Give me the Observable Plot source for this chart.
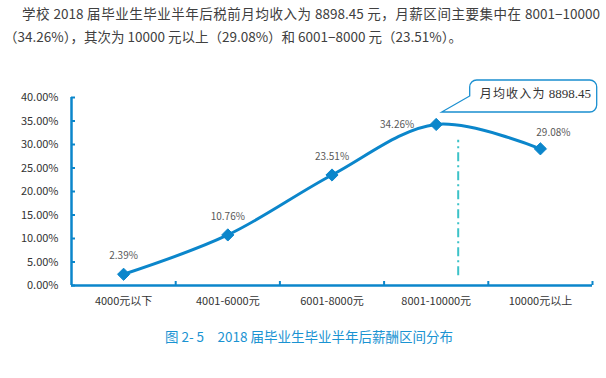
<!DOCTYPE html>
<html>
<head>
<meta charset="utf-8">
<script src="https://cdn.jsdelivr.net/npm/d3@7"></script>
<script src="https://cdn.jsdelivr.net/npm/@observablehq/plot@0.6"></script>
<style>
  html, body { margin: 0; padding: 0; background: #fff; }
  body { width: 606px; height: 378px; overflow: hidden; font-family: "Noto Sans CJK SC", "Noto Sans", sans-serif; }
  #intro { height: 55px; margin: 0; padding: 2px 6px 0 4px; box-sizing: border-box; font-size: 13.5px; line-height: 23px; color: #404040; text-align: justify; text-indent: 18px; }
  #chart svg { display: block; }
  #caption { text-align: center; font-size: 13.5px; color: #1a93d2; margin-top: 6px; padding-left: 12px; }
</style>
</head>
<body>
<p id="intro">学校 2018 届毕业生毕业半年后税前月均收入为 8898.45 元，月薪区间主要集中在 8001−10000（34.26%），其次为 10000 元以上（29.08%）和 6001−8000 元（23.51%）。</p>
<div id="chart"></div>
<div id="caption">图 2- 5　2018 届毕业生毕业半年后薪酬区间分布</div>
<script>
const categories = ["4000元以下", "4001-6000元", "6001-8000元", "8001-10000元", "10000元以上"];
const shares = [2.39, 10.76, 23.51, 34.26, 29.08];
const yTicks = [0, 5, 10, 15, 20, 25, 30, 35, 40];
const avgLabel = "月均收入为";
const avgValue = "8898.45";
const avgCategory = "8001-10000元";
const avgLineRange = [2.1, 30.9];

const data = categories.map((c, i) => ({cat: c, pos: i + 0.5, v: shares[i]}));
const avgPos = categories.indexOf(avgCategory) + 0.5;
const blue = "#0b86cb";

const callout = (index, scales) => {
  const px = scales.x(avgPos) + 6, py = scales.y(shares[categories.indexOf(avgCategory)]) - 12;
  const l = px + 28, t = py - 32, r = px + 155, b = py, rad = 7;
  const g = d3.create("svg:g");
  g.append("path")
    .attr("d", `M${l + rad},${t} H${r - rad} A${rad},${rad} 0 0 1 ${r},${t + rad} V${b - rad} A${rad},${rad} 0 0 1 ${r - rad},${b} H${l + 7} L${px},${py} L${l},${b - 16} V${t + rad} A${rad},${rad} 0 0 1 ${l + rad},${t} Z`)
    .attr("fill", "#fff").attr("stroke", "#1a8fd0").attr("stroke-width", 1.3);
  const tx = g.append("text").attr("x", l + 10).attr("y", (t + b) / 2 + 2.5)
    .attr("text-anchor", "start").attr("fill", "#333").attr("font-size", 12);
  tx.append("tspan").attr("font-family", "Noto Sans CJK SC").attr("letter-spacing", 1.2).text(avgLabel);
  tx.append("tspan").attr("dx", 3).attr("font-size", 13).attr("font-family", "Liberation Serif").text(avgValue);
  return g.node();
};

const chart = Plot.plot({
  width: 606,
  height: 265,
  marginLeft: 71,
  marginRight: 14,
  marginTop: 42,
  marginBottom: 35,
  style: {fontFamily: "Noto Sans CJK SC, sans-serif", fontSize: "11px", color: "#333", background: "#fff"},
  x: {domain: [0, categories.length], label: null},
  y: {domain: [0, 40], label: null},
  marks: [
    Plot.axisY({ticks: yTicks, tickFormat: d => d.toFixed(2) + "%", tickSize: -4, tickPadding: 17, stroke: blue, strokeWidth: 2, fill: "#333", fontSize: 11, label: null}),
    Plot.axisX({ticks: categories.map((c, i) => i + 1), tickSize: -4, tickFormat: () => "", stroke: blue, strokeWidth: 2, label: null}),
    Plot.axisX({ticks: data.map(d => d.pos), tickSize: 0, tickPadding: 12, tickFormat: (d, i) => categories[i], fill: "#333", fontSize: 11, label: null}),
    Plot.ruleX([0], {y1: 0, y2: 40, stroke: blue, strokeWidth: 2.5}),
    Plot.ruleY([0], {x1: 0, x2: categories.length, stroke: blue, strokeWidth: 2.5}),
    Plot.ruleX([avgPos], {y1: avgLineRange[0], y2: avgLineRange[1], dx: 22, stroke: "#3cc2c8", strokeWidth: 2, strokeDasharray: "9,4,2,4"}),
    Plot.line(data, {x: "pos", y: "v", curve: "catmull-rom", stroke: blue, strokeWidth: 3}),
    Plot.dot(data, {x: "pos", y: "v", symbol: "diamond2", r: 5.5, fill: blue, stroke: blue, strokeWidth: 1}),
    Plot.text(data.filter(d => d.cat !== avgCategory && d.cat !== categories[4]), {x: "pos", y: "v", text: d => d.v.toFixed(2) + "%", dy: -18, fill: "#595959", fontSize: 10}),
    Plot.text(data.filter(d => d.cat === categories[4]), {x: "pos", y: "v", text: d => d.v.toFixed(2) + "%", dy: -16, dx: 13, fill: "#595959", fontSize: 10}),
    Plot.text(data.filter(d => d.cat === avgCategory), {x: "pos", y: "v", text: d => d.v.toFixed(2) + "%", dx: -22, textAnchor: "end", fill: "#595959", fontSize: 10}),
    callout
  ]
});
document.getElementById("chart").appendChild(chart);
</script>
</body>
</html>
